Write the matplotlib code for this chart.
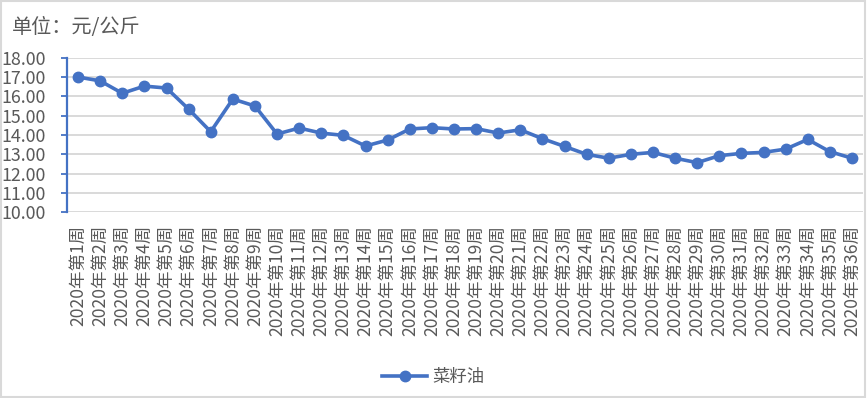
import matplotlib
matplotlib.use("Agg")
import matplotlib.pyplot as plt
from matplotlib.patches import Rectangle

plt.rcParams['font.family'] = ['Noto Sans CJK SC', 'DejaVu Sans']

weeks = [f"2020年第{i}周" for i in range(1, 37)]
prices = [17.00, 16.80, 16.16, 16.53, 16.43, 15.34, 14.17, 15.86, 15.50, 14.05,
          14.36, 14.10, 13.98, 13.43, 13.74, 14.31, 14.38, 14.31, 14.33, 14.10,
          14.27, 13.81, 13.41, 13.00, 12.80, 13.00, 13.10, 12.80, 12.57, 12.93,
          13.05, 13.10, 13.27, 13.77, 13.14, 12.80]
series_name = "菜籽油"
unit_label = "单位：元/公斤"
yticks = [10, 11, 12, 13, 14, 15, 16, 17, 18]

blue = "#4472C4"
gray_text = "#595959"
grid_c = "#D9D9D9"

fig = plt.figure(figsize=(8.67, 3.98), dpi=100)
ax = fig.add_axes([67/867, 1-212.3/398, (863-67)/867, (212.3-57.7)/398])

x = list(range(len(weeks)))
ax.plot(x, prices, color=blue, lw=2.6, marker='o', markersize=7.5,
        markerfacecolor=blue, markeredgecolor=blue, label=series_name, zorder=3,
        solid_joinstyle='round')

ax.set_xlim(-0.5, len(weeks) - 0.5)
ax.set_ylim(10, 18)
ax.set_yticks(yticks)
ax.set_yticklabels([f"{v:.2f}" for v in yticks], fontsize=12.8, color=gray_text)
ax.set_xticks(x)
ax.set_xticklabels(weeks, rotation=90, fontsize=12.6, color=gray_text)
ax.tick_params(axis='x', length=0, pad=9)
ax.tick_params(axis='y', length=4, width=1.3, color=blue, pad=11)

ax.grid(axis='y', color=grid_c, lw=1.4, zorder=0)
for s in ['top', 'right', 'bottom']:
    ax.spines[s].set_visible(False)
ax.spines['left'].set_color(blue)
ax.spines['left'].set_linewidth(1.6)
ax.set_axisbelow(True)

fig.text(12/867, 1-28/398, unit_label, fontsize=14.5, color=gray_text, va='center', ha='left')

leg = fig.legend(loc='center', bbox_to_anchor=(0.5, 1-377/398), frameon=False,
                 fontsize=12.5, handlelength=2.6, handletextpad=0.3)
for t in leg.get_texts():
    t.set_color(gray_text)

fig.patches.append(Rectangle((0.001, 0.002), 0.997, 0.995, transform=fig.transFigure,
                             fill=False, edgecolor=grid_c, lw=1.5))

fig.savefig("out.png", dpi=100)
